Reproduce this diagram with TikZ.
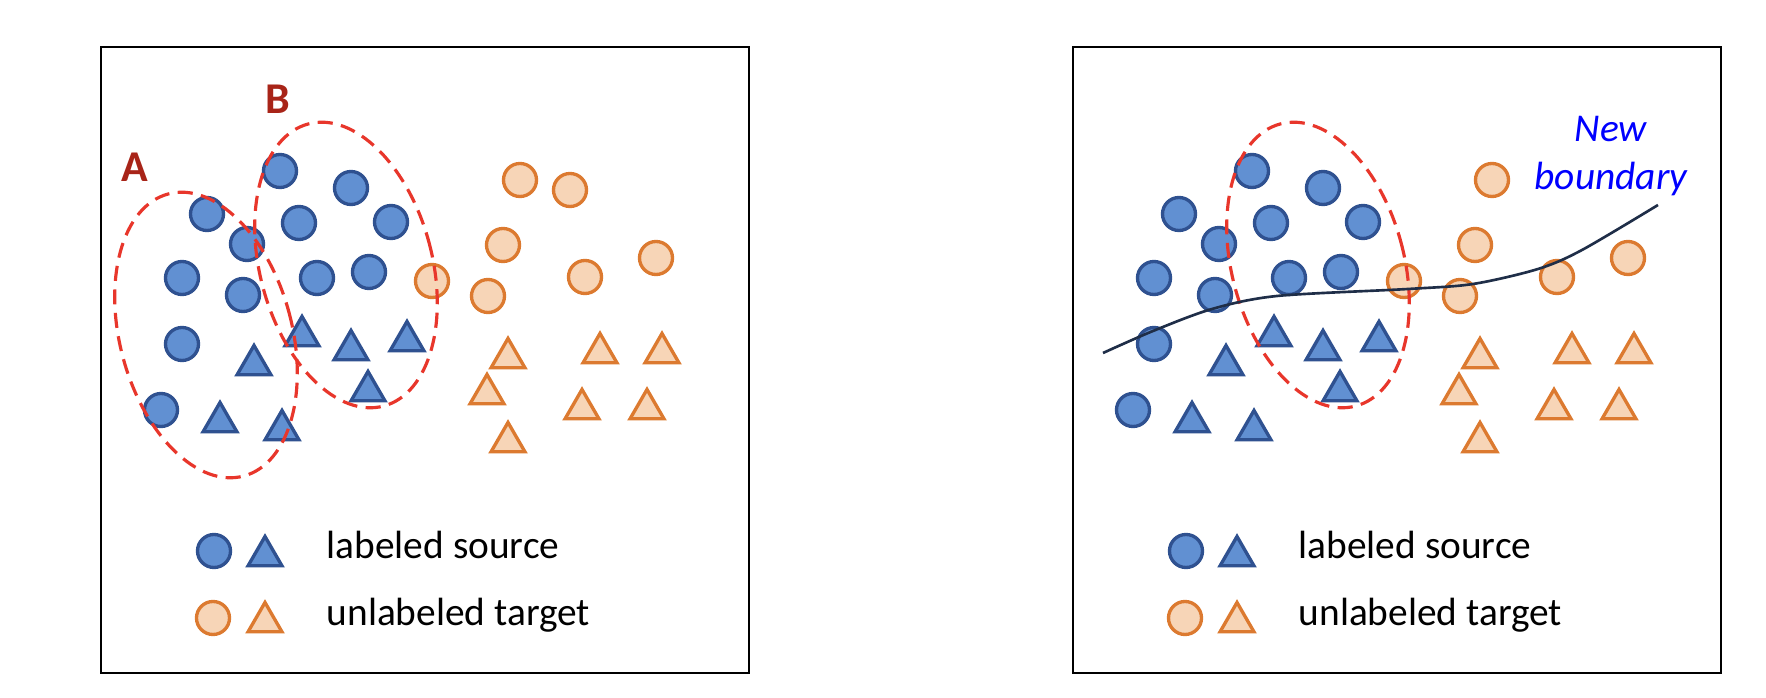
\documentclass[tikz,border=0pt]{standalone}
\usepackage{fontspec}
\setmainfont{Carlito}
\usepackage{xcolor}
\usepackage{tikz}
\usetikzlibrary{shapes.geometric}

\definecolor{srcfill}{HTML}{6190D2}
\definecolor{srcline}{HTML}{2F5190}
\definecolor{tgtfill}{HTML}{F7D5B7}
\definecolor{tgtline}{HTML}{DC7A30}
\definecolor{regionred}{HTML}{E8362B}
\definecolor{markred}{HTML}{A82418}
\definecolor{bdline}{HTML}{1F2E48}

\begin{document}
\begin{tikzpicture}[x=0.01cm, y=-0.01cm,
  srcdot/.style={circle, draw=srcline, fill=srcfill, line width=0.95pt, inner sep=0pt, minimum size=0.33cm},
  srctri/.style={regular polygon, regular polygon sides=3, draw=srcline, fill=srcfill, line width=0.95pt, inner sep=0pt, minimum size=0.39cm},
  tgtdot/.style={srcdot, draw=tgtline, fill=tgtfill},
  tgttri/.style={srctri, draw=tgtline, fill=tgtfill},
  region/.style={draw=regionred, dash pattern=on 4.3pt off 2.4pt, line width=0.9pt},
  legtext/.style={anchor=base west, inner sep=0pt, font=\fontsize{11.2}{13.5}\selectfont},
  panel/.style={draw=black, line width=0.7pt}]
\fill[white] (0,0) rectangle (1766,698);

% both panels share the same data points
\foreach \p/\dx in {L/0, R/972} {
\begin{scope}[shift={(\dx,0)}]
\draw[panel] (101,47) rectangle (749,673);
\foreach \x/\y [count=\i] in {280/171, 351/188, 207/214, 299/223, 391/222, 247/244,
    182/278, 243/295, 317/278, 369/272, 182/344, 161/410}
  \node[srcdot] (\p-c\i) at (\x,\y) {};
\foreach \x/\y [count=\i] in {302/336, 351/350, 407/341, 254/365, 368/391, 220/422, 282/430}
  \node[srctri] (\p-t\i) at (\x,\y) {};
\foreach \x/\y [count=\i] in {520/180, 503/245, 432/281, 488/296, 585/277, 656/258}
  \node[tgtdot] (\p-u\i) at (\x,\y) {};
\foreach \x/\y [count=\i] in {508/358, 600/353, 662/353, 487/394, 582/409, 647/409, 508/442}
  \node[tgttri] (\p-v\i) at (\x,\y) {};
% region B
\draw[region, rotate around={15:(346,265)}] (346,265) ellipse [x radius=86, y radius=146];
% legend
\node[srcdot] (\p-lc1) at (214,551) {};
\node[srctri] (\p-lt1) at (265,556) {};
\node[tgtdot] (\p-lc2) at (213,618) {};
\node[tgttri] (\p-lt2) at (265,622) {};
\node[legtext] (\p-src) at (326,559) {labeled source};
\node[legtext] (\p-tgt) at (326,626) {unlabeled target};
\end{scope}
}

% left panel only
\node[tgtdot] (L-u7) at (570,190) {};
\draw[region, rotate around={15:(206,335)}] (206,335) ellipse [x radius=86, y radius=146];
\node[text=markred, font=\fontsize{12.5}{14}\selectfont\bfseries] (labA) at (135,167) {A};
\node[text=markred, font=\fontsize{12.5}{14}\selectfont\bfseries] (labB) at (278,99) {B};

% right panel only
\draw[bdline, line width=0.75pt] plot[smooth] coordinates {(1103,353) (1153,331) (1212,309)
  (1277,296) (1408,289) (1473,284) (1538,269) (1582,250) (1658,205)};
\node[text=blue, align=center, inner sep=0pt, anchor=north,
  font=\fontsize{11.2}{13.4}\selectfont\itshape] (newbd) at (1611,116) {New\\boundary};
\end{tikzpicture}
\end{document}
